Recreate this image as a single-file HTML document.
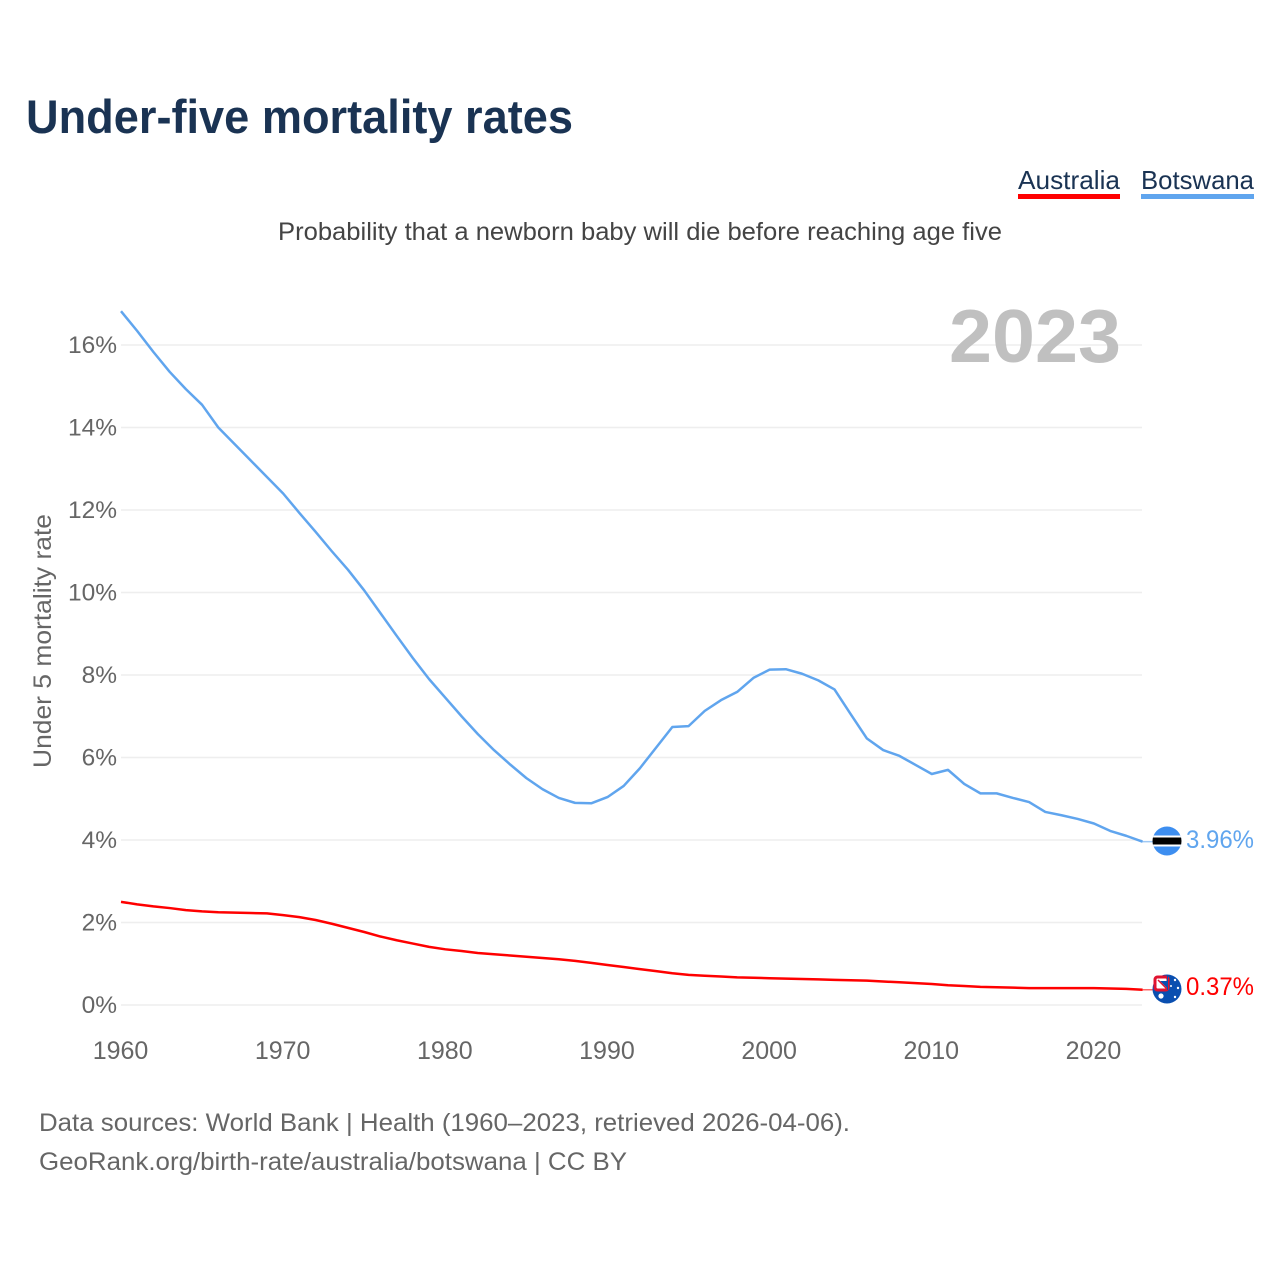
<!DOCTYPE html>
<html lang="en">
<head>
<meta charset="utf-8">
<title>Under-five mortality rates</title>
<style>
html,body{margin:0;padding:0;background:#fff;width:1280px;height:1280px;overflow:hidden}
svg{display:block}
text{font-family:"Liberation Sans",sans-serif}
</style>
</head>
<body>
<svg id="chart" xmlns="http://www.w3.org/2000/svg" width="1280" height="1280" viewBox="0 0 1280 1280">
  <defs>
    <clipPath id="flag-clip-bw"><circle cx="1167" cy="841" r="14.5"/></clipPath>
    <clipPath id="flag-clip-au"><circle cx="1167" cy="989" r="14.5"/></clipPath>
  </defs>
  <rect width="1280" height="1280" fill="#fff"/>
  <text x="26" y="133" font-size="47" font-weight="700" fill="#1a3353" textLength="547" lengthAdjust="spacingAndGlyphs">Under-five mortality rates</text>

  <g>
    <text x="1018" y="189" font-size="26" fill="#1a3353" textLength="102" lengthAdjust="spacingAndGlyphs">Australia</text>
    <rect x="1018" y="194" width="102" height="5" fill="#ff0000"/>
  </g>
  <g>
    <text x="1141" y="189" font-size="26" fill="#1a3353" textLength="113" lengthAdjust="spacingAndGlyphs">Botswana</text>
    <rect x="1141" y="194" width="113" height="5" fill="#60a5ee"/>
  </g>

  <text x="278" y="240" font-size="25" fill="#444" textLength="724" lengthAdjust="spacingAndGlyphs">Probability that a newborn baby will die before reaching age five</text>

  <g id="grid"></g>
  <text x="949" y="362" font-size="75" font-weight="700" fill="#c0c0c0" textLength="172" lengthAdjust="spacingAndGlyphs">2023</text>
  <g id="yticks"></g>
  <g id="xticks"></g>
  <text transform="translate(51 768) rotate(-90)" x="0" y="0" font-size="25" fill="#666" textLength="254" lengthAdjust="spacingAndGlyphs">Under 5 mortality rate</text>

  <g id="series"></g>

  <g id="flag-botswana">
    <g clip-path="url(#flag-clip-bw)">
      <rect x="1150" y="824" width="34" height="34" fill="#3d8ef0"/>
      <rect x="1150" y="835.5" width="34" height="11" fill="#fff"/>
      <rect x="1150" y="837.5" width="34" height="7" fill="#000"/>
    </g>
  </g>
  <g id="flag-australia">
    <circle cx="1167" cy="989" r="14.5" fill="#0a4fb0"/>
    <rect x="1155" y="977" width="13" height="13" rx="2.5" fill="#fff" stroke="#e0122f" stroke-width="3"/>
    <path d="M1160 981 L1167 981 L1167 988 Z" fill="#0a4fb0"/>
    <path d="M1158 980 L1167 989" stroke="#e0122f" stroke-width="1.5"/>
    <rect x="1167" y="975" width="1" height="15" fill="#0a4fb0"/>
    <circle cx="1161" cy="996" r="2.6" fill="#fff"/>
    <circle cx="1175" cy="980" r="1.2" fill="#fff"/>
    <circle cx="1178" cy="988" r="1.2" fill="#fff"/>
    <circle cx="1171" cy="986" r="1" fill="#fff"/>
    <circle cx="1175" cy="997" r="1.2" fill="#fff"/>
  </g>

  <g id="endlabels"></g>

  <text x="39" y="1131" font-size="25" fill="#666" textLength="811" lengthAdjust="spacingAndGlyphs">Data sources: World Bank | Health (1960–2023, retrieved 2026-04-06).</text>
  <text x="39" y="1170" font-size="25" fill="#666" textLength="588" lengthAdjust="spacingAndGlyphs">GeoRank.org/birth-rate/australia/botswana | CC BY</text>
</svg>
<script>
var startYear = 1960;
var endYear = 2023;
var yTickValues = [0, 2, 4, 6, 8, 10, 12, 14, 16];
var xTickYears = [1960, 1970, 1980, 1990, 2000, 2010, 2020];
var botswanaValues = [16.82,16.34,15.83,15.35,14.93,14.55,14.0,13.6,13.2,12.8,12.4,11.93,11.47,11.0,10.55,10.05,9.5,8.95,8.41,7.9,7.45,7.0,6.57,6.18,5.83,5.5,5.23,5.02,4.9,4.89,5.04,5.31,5.74,6.24,6.74,6.76,7.13,7.39,7.59,7.93,8.13,8.14,8.03,7.87,7.65,7.05,6.46,6.18,6.04,5.82,5.6,5.7,5.36,5.13,5.13,5.02,4.92,4.68,4.6,4.51,4.4,4.22,4.1,3.96];
var australiaValues = [2.5,2.44,2.39,2.35,2.3,2.27,2.25,2.24,2.23,2.22,2.18,2.13,2.06,1.97,1.87,1.77,1.66,1.57,1.49,1.41,1.35,1.31,1.26,1.23,1.2,1.17,1.14,1.11,1.07,1.02,0.97,0.92,0.87,0.82,0.77,0.73,0.71,0.69,0.67,0.66,0.65,0.64,0.63,0.62,0.61,0.6,0.59,0.57,0.55,0.53,0.51,0.48,0.46,0.44,0.43,0.42,0.41,0.41,0.41,0.41,0.41,0.4,0.39,0.37];

var NS = 'http://www.w3.org/2000/svg';
function xScale(year) { return 121 + (year - 1960) * (1142.6 - 121) / 63; }
function yScale(v) { return 1005 - v * 41.25; }
function make(tag, attrs, parent) {
  var el = document.createElementNS(NS, tag);
  for (var k in attrs) el.setAttribute(k, attrs[k]);
  parent.appendChild(el);
  return el;
}
var grid = document.getElementById('grid');
var yticks = document.getElementById('yticks');
var xticks = document.getElementById('xticks');
var series = document.getElementById('series');
var endlabels = document.getElementById('endlabels');

yTickValues.forEach(function (v) {
  var line = make('line', {x1: 121, x2: 1142, y1: yScale(v), y2: yScale(v), stroke: '#eeeeee', 'stroke-width': 1.5}, grid);
  
  
  var t = make('text', {x: 117, y: yScale(v) + 8, 'text-anchor': 'end', 'font-size': 24.5, fill: '#666'}, yticks);
  
  
  t.textContent = v + '%';
});
xTickYears.forEach(function (yr) {
  var t = make('text', {x: xScale(yr) - 0.5, y: 1059, 'text-anchor': 'middle', 'font-size': 25, fill: '#666'}, xticks);
  
  
  t.textContent = yr;
});
function drawSeries(values, color, name) {
  var pts = values.map(function (v, i) { return xScale(startYear + i).toFixed(2) + ',' + yScale(v).toFixed(2); });
  var line = make('polyline', {points: pts.join(' '), fill: 'none', stroke: color, 'stroke-width': 2.5, 'stroke-linejoin': 'round'}, series);
  
  
  var lastY = yScale(values[values.length - 1]);
  var lead = make('line', {x1: 1142.6, x2: 1153, y1: lastY, y2: lastY, stroke: color, 'stroke-width': 1.5, opacity: 0.6}, series);
  
  
}
drawSeries(botswanaValues, '#60a5ee', 'line-botswana');
drawSeries(australiaValues, '#ff0000', 'line-australia');

function endLabel(values, color, name, offset) {
  var v = values[values.length - 1];
  var t = make('text', {x: 1186, y: yScale(v) + offset, 'font-size': 25, fill: color, textLength: 68, lengthAdjust: 'spacingAndGlyphs'}, endlabels);
  
  
  t.textContent = v.toFixed(2) + '%';
}
endLabel(botswanaValues, '#60a5ee', 'end-label-botswana', 6.5);
endLabel(australiaValues, '#ff0000', 'end-label-australia', 5.5);
</script>
</body>
</html>
